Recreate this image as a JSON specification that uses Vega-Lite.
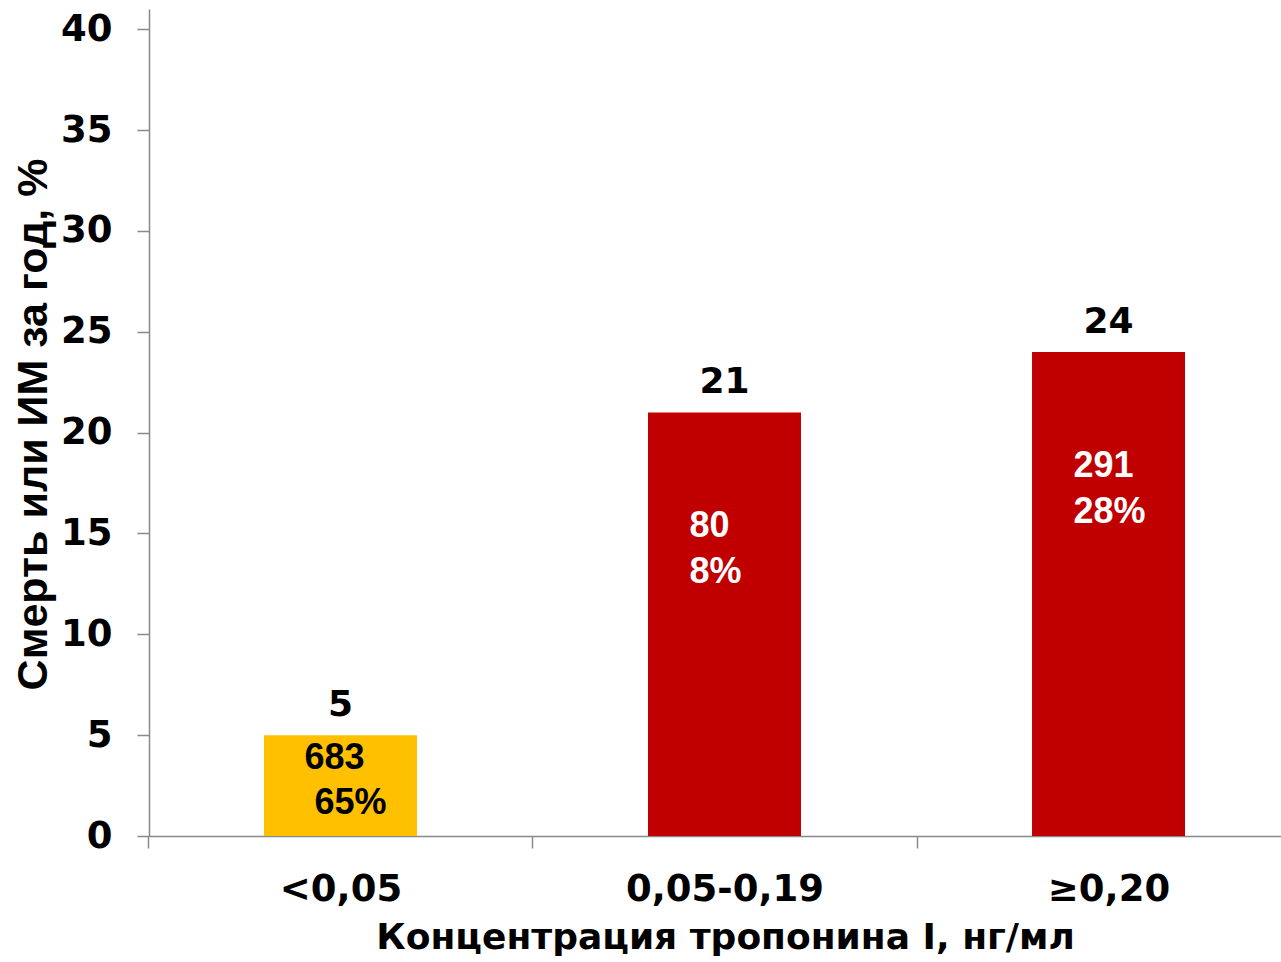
{
  "$schema": "https://vega.github.io/schema/vega-lite/v6.json",
  "autosize": "none",
  "width": 1132,
  "height": 827,
  "padding": {"left": 149, "top": 9, "right": 0, "bottom": 126},
  "background": "white",
  "config": {"view": {"stroke": null}},
  "data": {
    "values": [
      {"troponin": "<0,05", "risk": 5, "n": "683", "share": "65%", "group": "low"},
      {"troponin": "0,05-0,19", "risk": 21, "n": "80", "share": "8%", "group": "high"},
      {"troponin": "≥0,20", "risk": 24, "n": "291", "share": "28%", "group": "high"}
    ]
  },
  "encoding": {
    "x": {
      "field": "troponin",
      "type": "nominal",
      "sort": null,
      "scale": {"paddingInner": 0.6016, "paddingOuter": 0.2747, "align": 0.545},
      "axis": {
        "title": "Концентрация тропонина I, нг/мл",
        "titleFont": "DejaVu Sans",
        "titleFontWeight": "bold",
        "titleFontSize": 36,
        "titleColor": "black",
        "titleX": 576,
        "titleY": 112,
        "titleAnchor": null,
        "titleAlign": "center",
        "titleBaseline": "alphabetic",
        "labelAngle": 0,
        "labelLimit": 0,
        "labelFont": "DejaVu Sans",
        "labelFontWeight": "bold",
        "labelFontSize": 37,
        "labelColor": "black",
        "labelPadding": 23,
        "tickOffset": -192,
        "labelOffset": 192,
        "tickSize": 12,
        "tickColor": "#898989",
        "tickWidth": 1.5,
        "domainColor": "#898989",
        "domainWidth": 1.5,
        "grid": false
      }
    },
    "y": {
      "field": "risk",
      "type": "quantitative",
      "scale": {"domain": [0, 41], "nice": false},
      "axis": {
        "title": "Смерть или ИМ за год, %",
        "titleFont": "Liberation Sans",
        "titleFontWeight": "bold",
        "titleFontSize": 43,
        "titleColor": "black",
        "titleX": -116,
        "titleY": 415,
        "titleAngle": -90,
        "titleAlign": "center",
        "titleBaseline": "middle",
        "values": [0, 5, 10, 15, 20, 25, 30, 35, 40],
        "labelFont": "DejaVu Sans",
        "labelFontWeight": "bold",
        "labelFontSize": 37,
        "labelColor": "black",
        "labelPadding": 25,
        "tickSize": 12,
        "tickColor": "#898989",
        "tickWidth": 1.5,
        "domainColor": "#898989",
        "domainWidth": 1.5,
        "grid": false
      }
    }
  },
  "layer": [
    {
      "mark": {"type": "bar"},
      "encoding": {
        "color": {
          "field": "group",
          "type": "nominal",
          "scale": {"domain": ["low", "high"], "range": ["#FFC000", "#C00000"]},
          "legend": null
        }
      }
    },
    {
      "mark": {"type": "text", "font": "DejaVu Sans", "fontWeight": "bold", "fontSize": 36, "baseline": "alphabetic", "dy": -19, "color": "black"},
      "encoding": {"text": {"field": "risk", "type": "quantitative"}}
    },
    {
      "transform": [{"filter": "datum.group === 'high'"}],
      "mark": {"type": "text", "font": "Liberation Sans", "fontWeight": "bold", "fontSize": 36, "align": "left", "baseline": "alphabetic", "dx": -35, "dy": 125, "color": "white"},
      "encoding": {"text": {"field": "n"}}
    },
    {
      "transform": [{"filter": "datum.group === 'high'"}],
      "mark": {"type": "text", "font": "Liberation Sans", "fontWeight": "bold", "fontSize": 36, "align": "left", "baseline": "alphabetic", "dx": -35, "dy": 171, "color": "white"},
      "encoding": {"text": {"field": "share"}}
    },
    {
      "transform": [{"filter": "datum.group === 'low'"}],
      "mark": {"type": "text", "font": "Liberation Sans", "fontWeight": "bold", "fontSize": 36, "align": "left", "baseline": "alphabetic", "dx": -36, "dy": 34, "color": "black"},
      "encoding": {"text": {"field": "n"}}
    },
    {
      "transform": [{"filter": "datum.group === 'low'"}],
      "mark": {"type": "text", "font": "Liberation Sans", "fontWeight": "bold", "fontSize": 36, "align": "left", "baseline": "alphabetic", "dx": -26, "dy": 79, "color": "black"},
      "encoding": {"text": {"field": "share"}}
    }
  ]
}
